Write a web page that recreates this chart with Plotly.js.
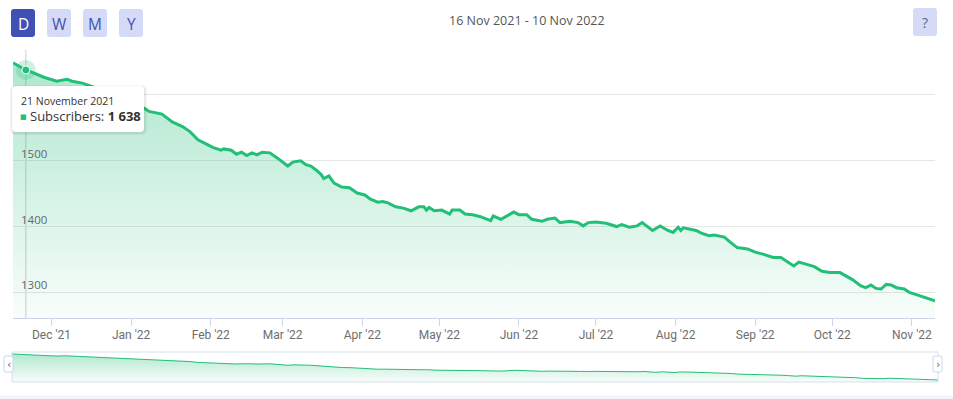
<!DOCTYPE html>
<html>
<head>
<meta charset="utf-8">
<script src="https://cdn.plot.ly/plotly-3.0.1.min.js"></script>
<style>html,body{margin:0;padding:0;background:#fff;}#chart{width:953px;height:399px;}</style>
</head>
<body>
<div id="chart"></div>
<script>
// ---- data ----
const dates = [
"2021-11-16","2021-11-21","2021-11-23","2021-11-28","2021-12-03","2021-12-07","2021-12-09","2021-12-13","2021-12-18","2021-12-24","2021-12-30",
"2022-01-06","2022-01-08","2022-01-13","2022-01-17","2022-01-21","2022-01-24","2022-01-27","2022-01-29",
"2022-02-02","2022-02-05","2022-02-06","2022-02-09","2022-02-11","2022-02-13","2022-02-15","2022-02-17","2022-02-19","2022-02-21","2022-02-24","2022-02-27",
"2022-03-03","2022-03-05","2022-03-08","2022-03-10","2022-03-12","2022-03-14","2022-03-16","2022-03-17","2022-03-19","2022-03-21","2022-03-24","2022-03-27","2022-03-30",
"2022-04-02","2022-04-04","2022-04-07","2022-04-09","2022-04-11","2022-04-14","2022-04-17","2022-04-20","2022-04-23","2022-04-25","2022-04-26","2022-04-27","2022-04-29",
"2022-05-02","2022-05-05","2022-05-06","2022-05-09","2022-05-11","2022-05-14","2022-05-17","2022-05-21","2022-05-22","2022-05-25","2022-05-30",
"2022-06-01","2022-06-04","2022-06-06","2022-06-10","2022-06-12","2022-06-15","2022-06-17","2022-06-21","2022-06-24","2022-06-26","2022-06-28",
"2022-07-01","2022-07-05","2022-07-09","2022-07-11","2022-07-14","2022-07-17","2022-07-19","2022-07-23","2022-07-26","2022-07-29","2022-07-31",
"2022-08-02","2022-08-03","2022-08-04","2022-08-07","2022-08-09","2022-08-11","2022-08-14","2022-08-16","2022-08-18","2022-08-20","2022-08-22","2022-08-25","2022-08-29",
"2022-09-01","2022-09-04","2022-09-08","2022-09-11","2022-09-13","2022-09-16","2022-09-18","2022-09-20","2022-09-24","2022-09-27","2022-09-30",
"2022-10-04","2022-10-06","2022-10-09","2022-10-12","2022-10-14","2022-10-16","2022-10-18","2022-10-20","2022-10-22","2022-10-24","2022-10-26","2022-10-29","2022-10-31",
"2022-11-03","2022-11-07","2022-11-10"
];
const subscribers = [
1649,1638,1635,1627,1621,1624,1621,1618,1611,1600,1591,
1580,1575,1571,1559,1552,1544,1532,1528,
1520,1516,1518,1516,1510,1513,1508,1512,1509,1513,1512,1504,
1492,1498,1500,1494,1492,1486,1479,1473,1477,1466,1460,1459,1451,
1448,1442,1437,1438,1436,1430,1428,1424,1430,1430,1425,1429,1424,
1425,1419,1425,1425,1419,1418,1415,1409,1416,1411,1422,
1418,1418,1411,1408,1411,1413,1406,1408,1406,1401,1406,
1407,1405,1400,1403,1399,1401,1406,1394,1401,1394,1391,
1399,1394,1398,1396,1394,1390,1386,1387,1386,1384,1377,1368,1366,
1361,1358,1353,1353,1348,1340,1346,1344,1339,1332,1330,
1330,1326,1319,1310,1307,1311,1306,1305,1312,1311,1307,1305,1300,
1296,1291,1287
];
const yTicks = [1300, 1400, 1500, 1600];
const yTicksHiddenByTooltip = [1600];
const buttonLabels = ["D", "W", "M", "Y"];
const seriesName = "Subscribers";
const hoverIndex = 1;

// ---- helpers ----
const W = 953, H = 399;
const px = x => x / W;
const py = y => 1 - y / H;
const GREEN = "#22bf78";
const monthsLong = ["January","February","March","April","May","June","July","August","September","October","November","December"];
const monthsShort = ["Jan","Feb","Mar","Apr","May","Jun","Jul","Aug","Sep","Oct","Nov","Dec"];
function parts(d){ const [y,m,dd] = d.split("-").map(Number); return {y, m, d: dd}; }
function fmtShort(d){ const p = parts(d); return p.d + " " + monthsShort[p.m-1] + " " + p.y; }
function fmtLong(d){ const p = parts(d); return p.d + " " + monthsLong[p.m-1] + " " + p.y; }
function fmtNum(v){ return String(v).replace(/\B(?=(\d{3})+(?!\d))/g, " "); }
function rrect(x0, y0, x1, y1, r){
  const P = (x, y) => px(x).toFixed(5) + "," + py(y).toFixed(5);
  return "M" + P(x0 + r, y0) + " L" + P(x1 - r, y0) + " Q" + P(x1, y0) + " " + P(x1, y0 + r) +
         " L" + P(x1, y1 - r) + " Q" + P(x1, y1) + " " + P(x1 - r, y1) +
         " L" + P(x0 + r, y1) + " Q" + P(x0, y1) + " " + P(x0, y1 - r) +
         " L" + P(x0, y0 + r) + " Q" + P(x0, y0) + " " + P(x0 + r, y0) + " Z";
}

const yMain = [1260.5, 1668.4];
const yNav = [1259, 1677];

const traces = [
  {
    x: dates, y: subscribers, type: "scatter", mode: "lines",
    line: {color: GREEN, width: 3}, fill: "tozeroy",
    fillgradient: {type: "vertical", start: yMain[0], stop: 1650,
      colorscale: [[0, "rgba(34,191,120,0.03)"], [1, "rgba(34,191,120,0.37)"]]},
    xaxis: "x", yaxis: "y", hoverinfo: "skip"
  },
  {
    x: [dates[hoverIndex]], y: [subscribers[hoverIndex]], type: "scatter", mode: "markers",
    marker: {size: 20, color: "rgba(34,191,120,0.22)"}, xaxis: "x", yaxis: "y", hoverinfo: "skip"
  },
  {
    x: [dates[hoverIndex]], y: [subscribers[hoverIndex]], type: "scatter", mode: "markers",
    marker: {size: 8, color: GREEN, line: {color: "#ffffff", width: 1}}, xaxis: "x", yaxis: "y", hoverinfo: "skip"
  },
  {
    x: dates, y: subscribers, type: "scatter", mode: "lines",
    line: {color: GREEN, width: 1}, fill: "tozeroy",
    fillgradient: {type: "vertical", start: yNav[0], stop: 1650,
      colorscale: [[0, "rgba(34,191,120,0.03)"], [1, "rgba(34,191,120,0.35)"]]},
    xaxis: "x2", yaxis: "y2", hoverinfo: "skip"
  }
];

const shapes = [];
// crosshair
shapes.push({type: "line", xref: "x", yref: "y domain", x0: dates[hoverIndex], x1: dates[hoverIndex], y0: 0, y1: 1,
  line: {color: "#cccccc", width: 1}, layer: "below"});
// navigator outline
shapes.push({type: "rect", xref: "paper", yref: "paper", x0: px(12), x1: px(938), y0: py(382), y1: py(352),
  line: {color: "#d8dfee", width: 1}, fillcolor: "rgba(0,0,0,0)", layer: "above"});
// navigator handles
[[4, 13], [933, 942]].forEach(([a, b]) => {
  shapes.push({type: "path", xref: "paper", yref: "paper", path: rrect(a, 356, b, 372, 2),
    fillcolor: "#ffffff", line: {color: "#ccd6eb", width: 1}, layer: "above"});
});
// bottom strip
shapes.push({type: "rect", xref: "paper", yref: "paper", x0: 0, x1: 1, y0: 0, y1: py(395.5),
  fillcolor: "#f1f4fb", line: {width: 0}, layer: "above"});
// buttons
const btnX = [[11, 35], [47, 71], [83, 107], [119, 143]];
btnX.forEach(([a, b], i) => {
  shapes.push({type: "path", xref: "paper", yref: "paper", path: rrect(a, 9, b, 37, 3),
    fillcolor: i === 0 ? "#3f51b5" : "#d5daf6", line: {width: 0}, layer: "above"});
});
shapes.push({type: "path", xref: "paper", yref: "paper", path: rrect(913, 8, 937, 36, 3),
  fillcolor: "#d5daf6", line: {width: 0}, layer: "above"});
// tooltip shadow + box
shapes.push({type: "path", xref: "paper", yref: "paper", path: rrect(10, 85, 147, 135, 5),
  fillcolor: "rgba(0,0,0,0.035)", line: {width: 0}, layer: "above"});
shapes.push({type: "path", xref: "paper", yref: "paper", path: rrect(11, 86, 146, 134, 5),
  fillcolor: "rgba(0,0,0,0.05)", line: {width: 0}, layer: "above"});
shapes.push({type: "path", xref: "paper", yref: "paper", path: rrect(12, 86, 144, 132, 4),
  fillcolor: "#ffffff", line: {width: 0}, layer: "above"});

const annotations = [];
buttonLabels.forEach((t, i) => {
  const [a, b] = btnX[i];
  annotations.push({xref: "paper", yref: "paper", x: px((a + b) / 2), y: py(23.5), text: t, showarrow: false,
    xanchor: "center", yanchor: "middle", font: {family: "Open Sans", size: 15.5, color: i === 0 ? "#ffffff" : "#3f51b5"}});
});
annotations.push({xref: "paper", yref: "paper", x: px(925), y: py(22), text: "?", showarrow: false,
  xanchor: "center", yanchor: "middle", font: {family: "Open Sans", size: 14, color: "#5a6690"}});
annotations.push({xref: "paper", yref: "paper", x: px(527), y: py(20), text: fmtShort(dates[0]) + " - " + fmtShort(dates[dates.length - 1]),
  showarrow: false, xanchor: "center", yanchor: "middle", font: {family: "Open Sans", size: 12.5, color: "#555555"}});
// tooltip text
annotations.push({xref: "paper", yref: "paper", x: px(19), y: py(101), text: fmtLong(dates[hoverIndex]), showarrow: false,
  xanchor: "left", yanchor: "middle", font: {family: "Open Sans", size: 10.5, color: "#333333"}});
annotations.push({xref: "paper", yref: "paper", x: px(23), y: py(117), text: "■", showarrow: false,
  xanchor: "center", yanchor: "middle", font: {family: "DejaVu Sans", size: 7, color: GREEN}});
annotations.push({xref: "paper", yref: "paper", x: px(28), y: py(116.5), text: seriesName + ": <b>" + fmtNum(subscribers[hoverIndex]) + "</b>",
  showarrow: false, xanchor: "left", yanchor: "middle", font: {family: "Open Sans", size: 13, color: "#333333"}});
// navigator arrows
annotations.push({xref: "paper", yref: "paper", x: px(8.5), y: py(364), text: "‹", showarrow: false,
  xanchor: "center", yanchor: "middle", font: {family: "DejaVu Sans", size: 11, color: "#666666"}});
annotations.push({xref: "paper", yref: "paper", x: px(937.5), y: py(364), text: "›", showarrow: false,
  xanchor: "center", yanchor: "middle", font: {family: "DejaVu Sans", size: 11, color: "#666666"}});

const layout = {
  width: W, height: H,
  margin: {l: 0, r: 0, t: 0, b: 0, pad: 0},
  paper_bgcolor: "#ffffff", plot_bgcolor: "rgba(0,0,0,0)",
  showlegend: false, hovermode: false,
  xaxis: {
    domain: [px(13), px(935)], range: [dates[0], dates[dates.length - 1]], type: "date",
    tick0: "2021-12-01", dtick: "M1", tickformat: "%b '%y",
    ticks: "outside", ticklen: 7, tickcolor: "#ccd6eb", tickwidth: 1,
    showline: true, linecolor: "#ccd6eb", linewidth: 1, showgrid: false, zeroline: false,
    ticklabelstandoff: -2,
    tickfont: {family: "Roboto", size: 12, color: "#6e6e6e"}, anchor: "y", fixedrange: true
  },
  yaxis: {
    domain: [py(318.3), py(50)], range: yMain,
    tickmode: "array", tickvals: yTicks,
    ticktext: yTicks.map(v => yTicksHiddenByTooltip.includes(v) ? "" : String(v)),
    showgrid: true, gridcolor: "#e6e6e6", gridwidth: 1, zeroline: false, showline: false,
    ticks: "", ticklabelposition: "inside", ticklabelshift: -7, ticklabelstandoff: 5,
    tickfont: {family: "Open Sans", size: 11.5, color: "#666666"}, anchor: "x", fixedrange: true
  },
  xaxis2: {domain: [px(12), px(938)], range: [dates[0], dates[dates.length - 1]], type: "date", visible: false, anchor: "y2", fixedrange: true},
  yaxis2: {domain: [py(382), py(352)], range: yNav, visible: false, anchor: "x2", fixedrange: true},
  shapes: shapes,
  annotations: annotations
};

Plotly.newPlot("chart", traces, layout, {displayModeBar: false, staticPlot: true});
</script>
</body>
</html>
